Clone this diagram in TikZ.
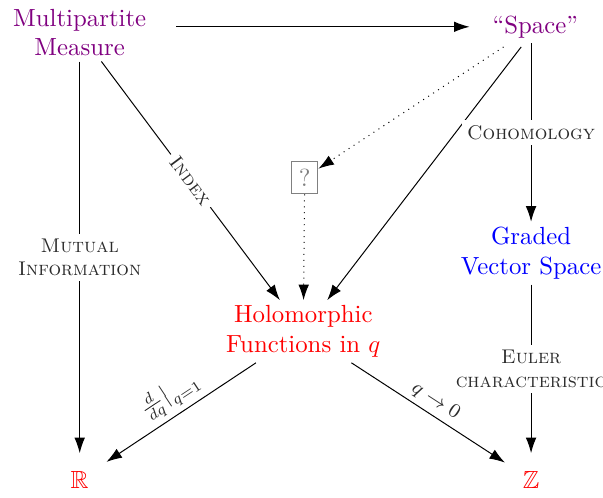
\documentclass[tikz,border=0pt]{standalone}
\usepackage{amsmath,amssymb}
\usepackage{tikz}
\usetikzlibrary{arrows.meta,positioning}
\definecolor{plum}{HTML}{800080}
\definecolor{ink}{HTML}{2B2B2B}
\tikzset{obj/.style={align=center,font=\normalsize,inner sep=2pt},measure/.style={obj,text=plum},target/.style={obj,text=red},number/.style={target,inner sep=7pt},graded/.style={obj,text=blue},qbox/.style={draw=gray,text=gray,inner sep=3pt},arr/.style={-{Latex[length=2.2mm,width=1.5mm]},thin},guess/.style={arr,dotted},lab/.style={font=\footnotesize\scshape,text=ink,align=center,fill=white,inner sep=2pt},slab/.style={font=\footnotesize\scshape,text=ink,sloped,above,inner sep=2pt}}
\begin{document}
\begin{tikzpicture}[x=1cm,y=1cm]
\useasboundingbox (0,0) rectangle (8.55,7.06);
\node[measure] (meas) at (1.13,6.60) {Multipartite\\Measure};
\node[measure] (space) at (7.59,6.68) {``Space''};
\node[qbox] (what) at (4.32,4.54) {?};
\node[graded] (vect) at (7.53,3.47) {Graded\\Vector Space};
\node[target] (holo) at (4.30,2.36) {Holomorphic\\Functions in $q$};
\node[number] (reals) at (1.13,0.26) {$\mathbb{R}$};
\node[number] (ints) at (7.53,0.26) {$\mathbb{Z}$};
\draw[arr] ([xshift=0.35cm]meas.east|-space) -- ([xshift=-0.25cm]space.west);
\draw[arr] (meas)--node[lab] {Mutual\\Information}(reals);
\draw[arr] (meas)--node[lab,sloped] {Index}(holo);
\draw[guess] ([xshift=-0.45cm,yshift=-0.05cm]space.south)--(what);
\draw[arr] ([xshift=-0.2cm,yshift=-0.05cm]space.south)--(holo);
\draw[arr] ([xshift=-0.06cm]space.south)--node[lab] {Cohomology}(vect);
\draw[guess] (what)--(holo);
\draw[arr] (vect)--node[lab] {Euler\\characteristic}(ints);
\draw[arr] (holo)--node[slab] {$\frac{d}{dq}\big|_{q=1}$}(reals);
\draw[arr] (holo)--node[slab] {$q\to0$}(ints);
\end{tikzpicture}
\end{document}
